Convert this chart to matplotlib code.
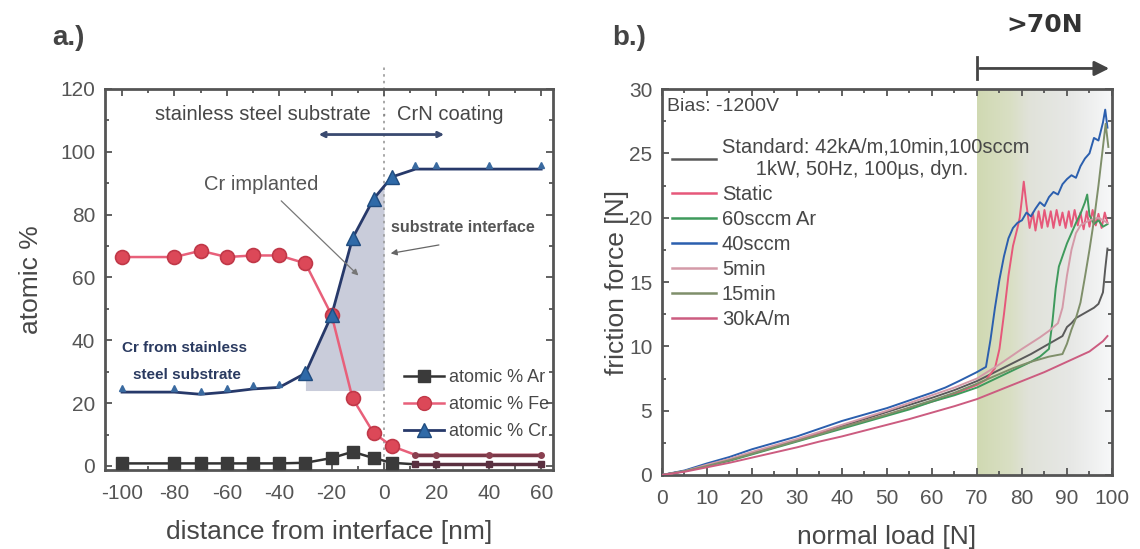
import numpy as np
import matplotlib
matplotlib.use("Agg")
import matplotlib.pyplot as plt
from matplotlib.colors import LinearSegmentedColormap
from matplotlib.ticker import MultipleLocator

plt.rcParams['font.family'] = ['Liberation Sans', 'DejaVu Sans']
plt.rcParams['axes.unicode_minus'] = False

# a.) depth profile across the interface
dist = np.array([-100, -80, -70, -60, -50, -40, -30, -20, -12, -4, 3, 12, 20, 40, 60])
ar = np.array([0.8, 0.8, 0.8, 0.8, 0.8, 0.8, 1.0, 2.5, 4.5, 2.5, 1.0, 0.5, 0.5, 0.5, 0.5])
fe = np.array([66.5, 66.5, 68.5, 66.5, 67, 67, 64.5, 48, 21.5, 10.5, 6.3, 3.5, 3.5, 3.5, 3.5])
cr = np.array([23.5, 23.5, 22.8, 23.5, 24.5, 25, 29.5, 48, 72.5, 85, 92, 94.5, 94.5, 94.5, 94.5])

# b.) scratch tests, friction force vs normal load
std_x = [0, 5, 10, 15, 20, 25, 30, 35, 40, 45, 50, 55, 60, 65, 70, 74, 78, 82, 86, 89, 90, 91, 92, 94, 96, 97, 98, 98.5, 99]
std_y = [0, 0.3, 0.75, 1.2, 1.7, 2.2, 2.7, 3.25, 3.8, 4.35, 4.9, 5.45, 6.0, 6.6, 7.3, 8.0, 8.7, 9.4, 10.2, 10.8,
         11.5, 11.8, 12.2, 12.6, 13.0, 13.3, 14.2, 16.0, 17.6]

static_x = [0, 5, 10, 15, 20, 25, 30, 35, 40, 45, 50, 55, 60, 65, 70, 72, 74, 75, 76, 77, 78, 79, 79.5, 80, 80.4,
            81, 81.7, 82.4, 83, 83.7, 84.4, 85, 85.7, 86.4, 87, 87.7, 88.4, 89, 89.7, 90.4, 91, 91.7, 92.4, 93,
            93.7, 94.4, 95, 95.7, 96.4, 97, 97.7, 98.4, 99]
static_y = [0, 0.3, 0.75, 1.2, 1.7, 2.2, 2.7, 3.2, 3.7, 4.2, 4.7, 5.2, 5.7, 6.3, 7.0, 7.4, 8.3, 9.8, 12.5, 15.5,
            17.8, 19.2, 20.0, 21.5, 22.8, 21.0, 19.2, 20.4, 19.0, 20.5, 19.2, 20.6, 19.3, 20.5, 19.2, 20.6, 19.4,
            20.4, 19.2, 20.5, 19.3, 20.6, 19.4, 20.4, 19.1, 20.5, 19.3, 20.6, 19.4, 20.3, 19.2, 20.4, 19.6]

ar60_x = [0, 5, 10, 15, 20, 25, 30, 35, 40, 45, 50, 55, 60, 65, 70, 73, 76, 79, 82, 84, 86, 86.8, 87.5, 88.2, 89,
          90, 91, 92, 93, 94, 94.5, 95, 96, 97, 98, 99]
ar60_y = [0, 0.3, 0.7, 1.1, 1.6, 2.1, 2.6, 3.1, 3.6, 4.1, 4.6, 5.1, 5.7, 6.2, 6.8, 7.3, 7.8, 8.3, 8.8, 9.2, 9.8,
          12.0, 14.5, 16.2, 17.0, 18.0, 18.8, 19.6, 20.3, 21.2, 21.8, 20.2, 19.5, 19.8, 19.3, 19.5]

s40_x = [0, 5, 10, 15, 20, 25, 30, 35, 40, 45, 50, 55, 60, 63, 66, 70, 72, 73, 74, 75, 76, 77, 78, 79, 80, 81, 82,
         83, 84, 85, 86, 87, 88, 89, 90, 91, 92, 93, 94, 95, 96, 97, 98, 98.5, 99]
s40_y = [0, 0.35, 0.9, 1.4, 2.0, 2.5, 3.0, 3.6, 4.2, 4.7, 5.2, 5.8, 6.4, 6.8, 7.3, 8.0, 8.4, 10.5, 13.0, 15.2, 17.0,
         18.4, 19.2, 19.6, 19.8, 20.4, 20.1, 20.7, 21.2, 20.9, 21.6, 22.0, 21.8, 22.6, 23.0, 23.3, 23.1, 24.0, 24.6,
         25.0, 26.2, 26.0, 27.4, 28.4, 27.0]

m5_x = [0, 5, 10, 15, 20, 25, 30, 35, 40, 45, 50, 55, 60, 65, 70, 75, 80, 84, 86, 88, 89, 90, 91, 92, 93, 95, 97, 99]
m5_y = [0, 0.3, 0.8, 1.25, 1.8, 2.3, 2.8, 3.35, 3.9, 4.45, 5.0, 5.6, 6.2, 6.8, 7.5, 8.6, 9.8, 10.7, 11.2, 11.8,
        13.0, 15.5, 17.5, 18.8, 19.4, 19.8, 20.0, 19.6]

m15_x = [0, 5, 10, 15, 20, 25, 30, 35, 40, 45, 50, 55, 60, 65, 70, 74, 78, 82, 86, 89, 90, 91, 92, 93, 94, 95, 96,
         97, 98, 98.6, 99.2]
m15_y = [0, 0.3, 0.7, 1.15, 1.65, 2.15, 2.65, 3.15, 3.7, 4.2, 4.7, 5.25, 5.8, 6.4, 7.1, 7.7, 8.3, 8.8, 9.2, 9.4,
         10.2, 11.3, 12.2, 13.4, 15.4, 17.5, 19.8, 22.5, 25.5, 27.3, 25.5]

ka30_x = [0, 5, 10, 15, 20, 25, 30, 35, 40, 45, 50, 55, 60, 65, 70, 75, 80, 85, 90, 95, 98, 99]
ka30_y = [0, 0.25, 0.6, 0.95, 1.35, 1.75, 2.15, 2.6, 3.0, 3.45, 3.9, 4.35, 4.85, 5.35, 5.9, 6.6, 7.3, 8.0, 8.8,
          9.6, 10.4, 10.8]

series = [
    ("Standard: 42kA/m,10min,100sccm\n      1kW, 50Hz, 100\u00b5s, dyn.", std_x, std_y, "#5a5a5a"),
    ("Static", static_x, static_y, "#e6587a"),
    ("60sccm Ar", ar60_x, ar60_y, "#3f9a5c"),
    ("40sccm", s40_x, s40_y, "#2b5fae"),
    ("5min", m5_x, m5_y, "#d49aa8"),
    ("15min", m15_x, m15_y, "#7f8f6a"),
    ("30kA/m", ka30_x, ka30_y, "#cc5c80"),
]

txt = "#474747"
spine = "#555555"

fig = plt.figure(figsize=(11.4, 5.49), dpi=100)
ax1 = fig.add_axes([0.0921, 0.1439, 0.393, 0.694])
ax2 = fig.add_axes([0.5807, 0.1348, 0.3947, 0.703])

# ---------- panel a ----------
xs = np.linspace(-30, 0, 200)
top = np.interp(xs, dist, cr)
ax1.fill_between(xs, 24, top, where=top >= 24, color="#c9ccda", interpolate=True, zorder=1, lw=0)
ax1.axvline(0, ymin=0, ymax=1.06, clip_on=False, ls=(0, (1.5, 2.5)), color="#9a9a9a", lw=1.2, zorder=1)

tail = dist > 8
ax1.plot(dist, ar, color="#333333", lw=1.8, zorder=3)
ax1.plot(dist[tail], ar[tail], color="#5a3040", lw=2.5, zorder=3)
ax1.plot(dist[~tail], ar[~tail], ls="none", marker="s", ms=8.5, color="#3a3a3a", zorder=4)
ax1.plot(dist[tail], ar[tail], ls="none", marker="s", ms=4, color="#5a3040", zorder=4)

ax1.plot(dist, fe, color="#e8607a", lw=1.8, zorder=3)
ax1.plot(dist[tail], fe[tail], color="#7a3848", lw=2.5, zorder=3)
ax1.plot(dist[~tail], fe[~tail], ls="none", marker="o", ms=10, mfc="#dc4858", mec="#c03848", mew=1.2, zorder=4)
ax1.plot(dist[tail], fe[tail], ls="none", marker="o", ms=4, color="#8a4050", zorder=4)

big = (dist > -35) & (dist < 8)
ax1.plot(dist, cr, color="#27396a", lw=2, zorder=3)
ax1.plot(dist[big], cr[big], ls="none", marker="^", ms=10, mfc="#2f6aa8", mec="#1f4c80", zorder=4)
ax1.plot(dist[~big], cr[~big] + 1.2, ls="none", marker="^", ms=4.5, color="#3a6aa0", zorder=4)

h_ar, = ax1.plot([], [], color="#333333", lw=1.8, marker="s", ms=8.5, mfc="#3a3a3a", mec="#3a3a3a")
h_fe, = ax1.plot([], [], color="#e8607a", lw=1.8, marker="o", ms=10, mfc="#dc4858", mec="#c03848")
h_cr, = ax1.plot([], [], color="#27396a", lw=2, marker="^", ms=10, mfc="#2f6aa8", mec="#1f4c80")
leg1 = ax1.legend([h_ar, h_fe, h_cr], ["atomic % Ar", "atomic % Fe", "atomic % Cr"], loc="lower right",
                  bbox_to_anchor=(1.02, 0.045), frameon=False, fontsize=13, handlelength=2.2,
                  labelspacing=0.55, handletextpad=0.3, borderpad=0.2)
for t in leg1.get_texts():
    t.set_color(txt)

ax1.text(-5, 112, "stainless steel substrate", ha="right", va="center", fontsize=14.5, color=txt)
ax1.text(0, 112, "\u00b7", ha="center", va="center", fontsize=14.5, color="#888888")
ax1.text(5, 112, "CrN coating", ha="left", va="center", fontsize=14.5, color=txt)
ax1.annotate("", xy=(24, 105.5), xytext=(-26, 105.5),
             arrowprops=dict(arrowstyle="<->", color="#3a4a70", lw=2, mutation_scale=8))

ax1.text(-47, 89.5, "Cr implanted", ha="center", va="center", fontsize=14.5, color="#555555")
ax1.annotate("", xy=(-9, 60), xytext=(-40, 85),
             arrowprops=dict(arrowstyle="-|>", color="#777777", lw=0.9, mutation_scale=9))
ax1.text(30, 76, "substrate interface", ha="center", va="center", fontsize=11.5, color="#555555",
         fontweight="bold")
ax1.annotate("", xy=(1.5, 67.5), xytext=(22, 70.5),
             arrowprops=dict(arrowstyle="-|>", color="#666666", lw=0.9, mutation_scale=9))
ax1.text(-100, 37.5, "Cr from stainless", ha="left", va="center", fontsize=11, color="#2a3a60",
         fontweight="bold")
ax1.text(-96, 29, "steel substrate", ha="left", va="center", fontsize=11, color="#2a3a60",
         fontweight="bold")

ax1.set_xlim(-106.5, 64.5)
ax1.set_ylim(-1.3, 120)
ax1.xaxis.set_major_locator(MultipleLocator(20))
ax1.xaxis.set_minor_locator(MultipleLocator(10))
ax1.yaxis.set_major_locator(MultipleLocator(20))
ax1.yaxis.set_minor_locator(MultipleLocator(10))
ax1.set_xlabel("distance from interface [nm]", fontsize=19, color=txt, labelpad=12)
ax1.set_ylabel("atomic %", fontsize=19, color=txt, labelpad=12)

# ---------- panel b ----------
shade = LinearSegmentedColormap.from_list("shade", [(0, "#d0d9b2"), (0.25, "#d9dfc4"), (0.38, "#e0e2d9"),
                                                    (0.7, "#e7e8e6"), (1.0, "#f7f8f9")])
ax2.imshow(np.linspace(0, 1, 256)[None, :], extent=[70, 100, 0, 30], aspect="auto", cmap=shade, zorder=0)

for label, x, y, c in series:
    ax2.plot(x, y, color=c, lw=1.4, label=label, zorder=3)

leg2 = ax2.legend(loc="upper left", bbox_to_anchor=(-0.01, 0.91), frameon=False, fontsize=14.5,
                  handlelength=2.2, labelspacing=0.3, handletextpad=0.3, borderpad=0.2)
for t in leg2.get_texts():
    t.set_color(txt)
for ln in leg2.get_lines():
    ln.set_linewidth(1.8)

ax2.text(0.012, 0.955, "Bias: -1200V", transform=ax2.transAxes, ha="left", va="center", fontsize=14,
         color=txt)

ax2.annotate("", xy=(100, 31.6), xytext=(70, 31.6),
             arrowprops=dict(arrowstyle="-|>", color="#444444", lw=2, mutation_scale=22),
             annotation_clip=False)
ax2.plot([70, 70], [30.8, 32.5], color="#444444", lw=2, clip_on=False)
ax2.text(85, 35.0, ">70N", ha="center", va="center", fontsize=18, fontweight="bold", color="#333333",
         family="DejaVu Sans")

ax2.set_xlim(0, 100)
ax2.set_ylim(0, 30)
ax2.xaxis.set_major_locator(MultipleLocator(10))
ax2.xaxis.set_minor_locator(MultipleLocator(5))
ax2.yaxis.set_major_locator(MultipleLocator(5))
ax2.yaxis.set_minor_locator(MultipleLocator(2.5))
ax2.set_xlabel("normal load [N]", fontsize=19, color=txt, labelpad=12)
ax2.set_ylabel("friction force [N]", fontsize=19, color=txt, labelpad=0)

for ax in (ax1, ax2):
    for s in ax.spines.values():
        s.set_color(spine)
        s.set_linewidth(2)
    ax.tick_params(which="both", direction="in", top=True, right=True, color=spine, width=1.3)
    ax.tick_params(which="major", length=5, labelsize=15, labelcolor="#555555")
    ax.tick_params(which="minor", length=3)
    ax.tick_params(axis="x", which="major", pad=10)
    ax.tick_params(axis="y", which="major", pad=7)

fig.text(0.046, 0.93, "a.)", fontsize=20, fontweight="bold", color="#444444", va="center")
fig.text(0.537, 0.93, "b.)", fontsize=20, fontweight="bold", color="#444444", va="center")

fig.savefig("out.png", dpi=100)
